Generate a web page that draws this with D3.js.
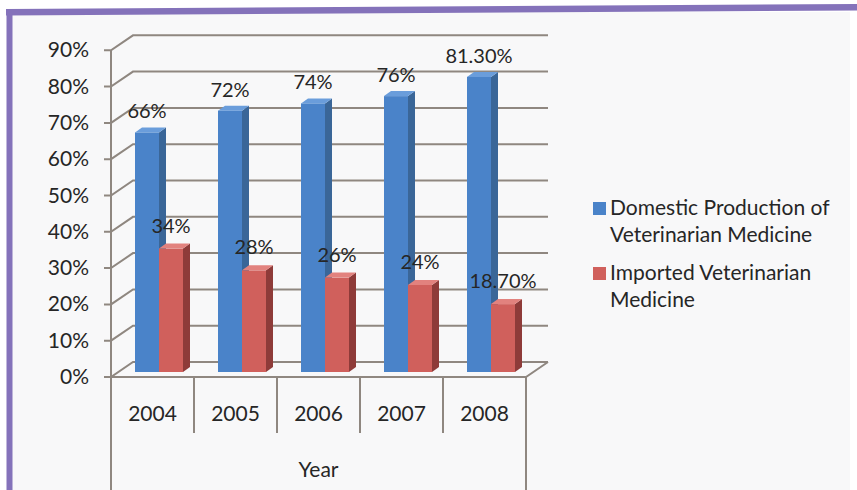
<!DOCTYPE html>
<html>
<head>
<meta charset="utf-8">
<script src="https://cdn.jsdelivr.net/npm/d3@7"></script>
<style>
  html, body { margin: 0; padding: 0; background: #ffffff; }
  svg { display: block; }
  text { font-family: Lato, "Open Sans", sans-serif; fill: #262626; }
</style>
</head>
<body>
<svg id="chart" width="857" height="490"></svg>
<script>
// ---- data ----
const years = ["2004", "2005", "2006", "2007", "2008"];
const domestic = [66, 72, 74, 76, 81.3];
const imported = [34, 28, 26, 24, 18.7];
const domesticLabels = ["66%", "72%", "74%", "76%", "81.30%"];
const importedLabels = ["34%", "28%", "26%", "24%", "18.70%"];
const seriesNames = ["Domestic Production of Veterinarian Medicine", "Imported Veterinarian Medicine"];
const legendLines = [["Domestic Production of", "Veterinarian Medicine"], ["Imported Veterinarian", "Medicine"]];
const yTicks = [0, 10, 20, 30, 40, 50, 60, 70, 80, 90];
const axisTitle = "Year";

// ---- layout ----
const svg = d3.select("#chart");
const W = 857, H = 490;
const frontLeft = 111, frontRight = 526, frontBase = 377;
const depthX = 22, depthY = -15;     // back wall offset
const barDX = 7, barDY = -5;          // bar depth position / thickness

const x = d3.scaleBand().domain(years).range([frontLeft, frontRight]).padding(0);
const xs = d3.scaleBand().domain(seriesNames).range([17, 65]).padding(0);
const y = d3.scaleLinear().domain([0, 90]).range([frontBase, frontBase - 90 * 3.63]);

const colors = {
  blue: { front: "#4a83c9", side: "#3a6698", top: "#6a9ddb" },
  red:  { front: "#d0605c", side: "#8e3b39", top: "#e2827e" }
};

// panel background and purple frame
svg.append("rect").attr("x", 12).attr("y", 12).attr("width", 838).attr("height", H - 12).attr("fill", "#f8f8f9");
svg.append("polygon")
  .attr("points", [[6, 9], [W, 4], [W, 10.5], [6, 15.5]].map(p => p.join(",")).join(" "))
  .attr("fill", "#8472ba");
svg.append("rect").attr("x", 6.5).attr("y", 9).attr("width", 6).attr("height", H - 9).attr("fill", "#8472ba");

const gridColor = "#8f8780";

// back wall gridlines with diagonal return to the front axis
const grid = svg.append("g").attr("fill", "none").attr("stroke", gridColor).attr("stroke-width", 2);
yTicks.forEach(t => {
  const yy = y(t);
  grid.append("path").attr("d", `M${frontLeft - 7},${yy}H${frontLeft}L${frontLeft + depthX},${yy + depthY}H${frontRight + depthX}`);
});

// floor outline
grid.append("path").attr("d",
  `M${frontLeft},${frontBase}H${frontRight}L${frontRight + depthX},${frontBase + depthY}`);

// front value axis line
grid.append("line").attr("x1", frontLeft).attr("x2", frontLeft).attr("y1", y(90)).attr("y2", H);

// category table lines
const tbl = svg.append("g").attr("stroke", gridColor).attr("stroke-width", 2);
years.forEach((yr, i) => {
  if (i > 0) tbl.append("line").attr("x1", x(yr)).attr("x2", x(yr)).attr("y1", frontBase).attr("y2", 433);
});
tbl.append("line").attr("x1", frontRight).attr("x2", frontRight).attr("y1", frontBase).attr("y2", H);

// y tick labels
svg.append("g").selectAll("text").data(yTicks).join("text")
  .attr("x", 89).attr("y", d => y(d) + 7)
  .attr("text-anchor", "end").attr("font-size", 21)
  .text(d => d + "%");

// 3D bars
function drawBar(g, x0, w, v, c) {
  const base = y(0) + barDY, top = y(v) + barDY;
  const X0 = x0 + barDX;
  g.append("rect").attr("x", X0).attr("y", top).attr("width", w).attr("height", base - top).attr("fill", c.front);
  g.append("polygon").attr("fill", c.side)
    .attr("points", [[X0 + w, top], [X0 + w + barDX, top + barDY], [X0 + w + barDX, base + barDY], [X0 + w, base]].map(p => p.join(",")).join(" "));
  g.append("polygon").attr("fill", c.top)
    .attr("points", [[X0, top], [X0 + w, top], [X0 + w + barDX, top + barDY], [X0 + barDX, top + barDY]].map(p => p.join(",")).join(" "));
  return { cx: X0 + w / 2, top };
}

const bars = svg.append("g");
const labels = svg.append("g").attr("font-size", 20).attr("text-anchor", "middle");
years.forEach((yr, i) => {
  const gb = bars.append("g");
  const b = drawBar(gb, x(yr) + xs(seriesNames[0]), xs.bandwidth(), domestic[i], colors.blue);
  const r = drawBar(gb, x(yr) + xs(seriesNames[1]), xs.bandwidth(), imported[i], colors.red);
  labels.append("text").attr("x", b.cx).attr("y", b.top - 14).text(domesticLabels[i]);
  labels.append("text").attr("x", r.cx).attr("y", r.top - 16).text(importedLabels[i]);
});

// category labels and axis title
svg.append("g").selectAll("text").data(years).join("text")
  .attr("x", d => x(d) + x.bandwidth() / 2).attr("y", 421)
  .attr("text-anchor", "middle").attr("font-size", 21)
  .text(d => d);
svg.append("text").attr("x", (frontLeft + frontRight) / 2).attr("y", 477)
  .attr("text-anchor", "middle").attr("font-size", 21).text(axisTitle);

// legend
const legend = svg.append("g").attr("font-size", 21);
const legendBase = [215, 280];
[colors.blue, colors.red].forEach((c, i) => {
  const by = legendBase[i];
  legend.append("rect").attr("x", 593).attr("y", by - 13).attr("width", 13).attr("height", 13).attr("fill", c.front);
  legendLines[i].forEach((ln, j) => {
    legend.append("text").attr("x", 610).attr("y", by + j * 26.5).text(ln);
  });
});
</script>
</body>
</html>
